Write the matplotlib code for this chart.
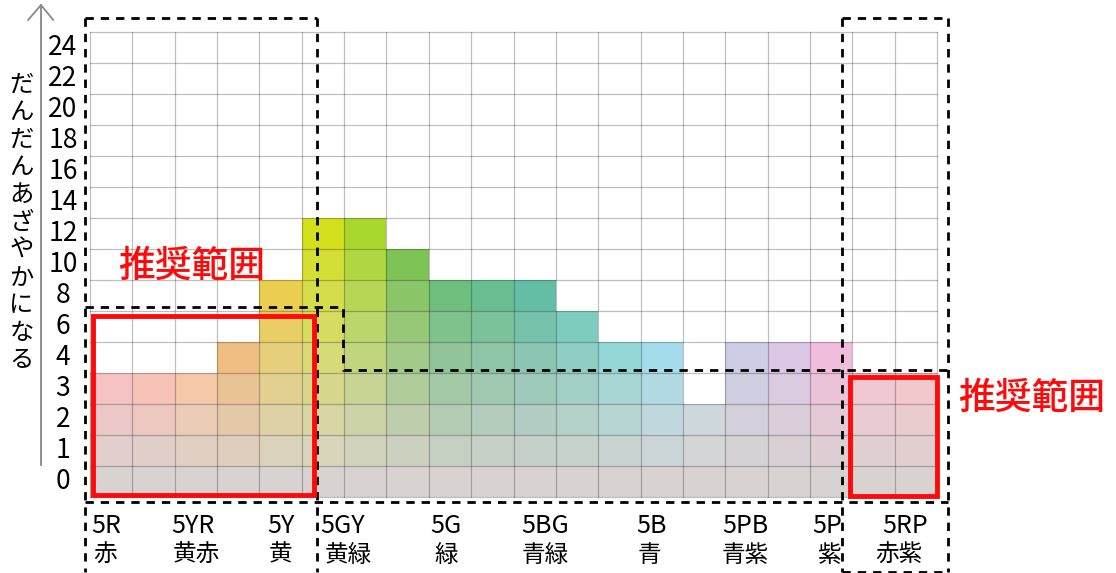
import matplotlib
matplotlib.use("Agg")
import matplotlib.pyplot as plt
from matplotlib.patches import Rectangle
from matplotlib.colors import to_rgb
import numpy as np

# ---- data ----
chroma_levels = [0, 1, 2, 3, 4, 6, 8, 10, 12, 14, 16, 18, 20, 22, 24]
max_chroma = [3, 3, 3, 4, 8, 12, 12, 10, 8, 8, 8, 6, 4, 4, 2, 4, 4, 4, 3, 3]
top_colors = ['#f5c3c3', '#f7c3b9', '#f5c8aa', '#f0be82', '#ebcd50', '#d4e01e',
              '#aad72d', '#7dc355', '#6ebe7d', '#69be91', '#64bea5', '#7dcdbe',
              '#96d7d7', '#a5dceb', '#cdd7dc', '#cdcde6', '#dcc8e6', '#f0bedc',
              '#f0c8d2', '#f2c8cd']
bottom_gray = '#d8d3d0'
hue_codes = ['5R', '5YR', '5Y', '5GY', '5G', '5BG', '5B', '5PB', '5P', '5RP']
hue_names = ['赤', '黄赤', '黄', '黄緑', '緑', '青緑', '青', '青紫', '紫', '赤紫']
hue_label_x = [0.38, 2.43, 4.5, 5.97, 8.4, 10.74, 13.25, 15.47, 17.4, 19.24]
name_label_x = [0.35, 2.5, 4.5, 6.1, 8.4, 10.74, 13.2, 15.47, 17.45, 19.1]
y_title = 'だんだんあざやかになる'
rec_text = '推奨範囲'

W, H = 1116, 573
fig = plt.figure(figsize=(W / 100, H / 100), dpi=100)
px0, px1, py0, py1 = 90, 937, 31.7, 497
ax = fig.add_axes([px0 / W, (H - py1) / H, (px1 - px0) / W, (py1 - py0) / H])
ncol, nrow = len(max_chroma), len(chroma_levels)
ax.set_xlim(0, ncol)
ax.set_ylim(0, nrow)
ax.axis('off')

num_font = ['Liberation Sans Narrow', 'Noto Sans CJK JP', 'DejaVu Sans']
jp_font = ['Noto Sans CJK JP', 'DejaVu Sans']

g = np.array(to_rgb(bottom_gray))
for c, mc in enumerate(max_chroma):
    n = chroma_levels.index(mc) + 1
    tc = np.array(to_rgb(top_colors[c]))
    for r in range(n):
        t = r / (n - 1) if n > 1 else 1
        col = g * (1 - t) + tc * t
        ax.bar(c + 0.5, 1, bottom=r, width=1, color=col, linewidth=0, zorder=1)

# grid (semi-transparent so it darkens on coloured cells)
for i in range(ncol + 1):
    ax.plot([i, i], [0, nrow], color='black', alpha=0.25, lw=0.9, zorder=2, clip_on=False)
for j in range(nrow + 1):
    ax.plot([0, ncol], [j, j], color='black', alpha=0.25, lw=0.9, zorder=2, clip_on=False)

# y tick labels
for j, v in enumerate(chroma_levels):
    ax.text(-0.64, j + 0.5, str(v), ha='center', va='center', fontsize=19,
            family=num_font, clip_on=False)

# x labels
for x, s in zip(hue_label_x, hue_codes):
    ax.text(x, -0.92, s, ha='center', va='center', fontsize=18, family=num_font, clip_on=False)
for x, s in zip(name_label_x, hue_names):
    ax.text(x, -1.88, s, ha='center', va='center', fontsize=17, family=jp_font, clip_on=False)

# y axis arrow
ax.plot([-1.157, -1.157], [1.03, 15.86], color='#888888', lw=1.3, clip_on=False)
ax.plot([-1.46, -1.157, -0.87], [15.38, 15.86, 15.38], color='#888888', lw=1.3, clip_on=False)
ax.text(-1.62, 8.85, '\n'.join(y_title), ha='center', va='center', fontsize=17.5,
        family=jp_font, linespacing=1.08, clip_on=False)

# dashed boxes
dk = dict(color='black', lw=2.0, ls=(0, (3, 2.5)), clip_on=False, zorder=5)
xL, xA, xB, xR1, xR2 = -0.118, 5.36, 5.97, 17.76, 20.26
yT, yM1, yM2, yBot, yLow = 15.44, 6.12, 4.09, -0.16, -2.42
ax.plot([xL, xA], [yT, yT], **dk)
ax.plot([xL, xL], [yT, yLow], **dk)
ax.plot([xA, xA], [yT, yLow], **dk)
ax.plot([xL, xB, xB, xR2], [yM1, yM1, yM2, yM2], **dk)
ax.plot([xL, xR2], [yBot, yBot], **dk)
ax.plot([xR1, xR2], [yT, yT], **dk)
ax.plot([xR1, xR1], [yT, yLow], **dk)
ax.plot([xR2, xR2], [yT, yLow], **dk)
ax.plot([xR1, xR2], [yLow, yLow], **dk)

# red recommended rectangles
red = '#ff0a0a'
ax.add_patch(Rectangle((0.07, 0.08), 5.22, 5.75, fill=False, ec=red, lw=3.5, zorder=6, clip_on=False))
ax.add_patch(Rectangle((17.95, 0.03), 2.05, 3.84, fill=False, ec=red, lw=3.5, zorder=6, clip_on=False))
ax.text(2.41, 7.46, rec_text, ha='center', va='center', fontsize=26.5, color=red,
        family=jp_font, fontweight='medium', clip_on=False)
ax.text(22.24, 3.19, rec_text, ha='center', va='center', fontsize=26.5, color=red,
        family=jp_font, fontweight='medium', clip_on=False)

fig.savefig('out.png', dpi=100, facecolor='white')
